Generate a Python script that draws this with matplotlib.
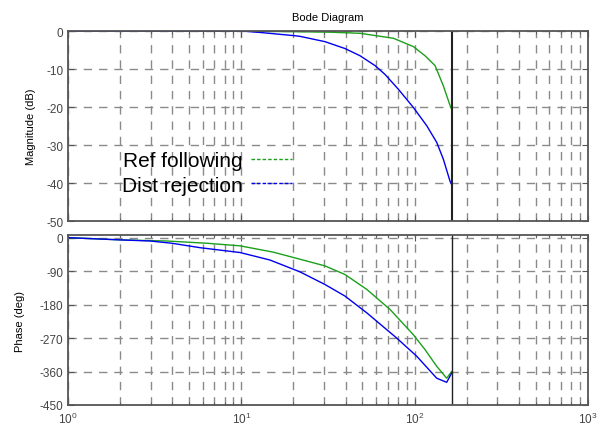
import matplotlib.pyplot as plt
from matplotlib.lines import Line2D
import numpy as np

plt.rcParams['font.family'] = ['Liberation Sans', 'DejaVu Sans']
plt.rcParams['mathtext.fontset'] = 'custom'
plt.rcParams['mathtext.rm'] = 'Liberation Sans'
plt.rcParams['axes.unicode_minus'] = False

# magnitude (dB)
freq_mag_ref = [1, 10, 32.5, 48.4, 75.4, 98.3, 114.8, 131.2, 146.4, 161.5, 164]
mag_ref = [0, 0, -0.3, -0.6, -1.9, -4.1, -6.5, -9.1, -14.4, -20.1, -20.5]
freq_mag_dist = [1, 10, 13.0, 20, 21.8, 30.4, 39.6, 48.4, 59.1, 67.4, 80.5, 98.3, 117.4, 134.1, 146.4, 160, 164]
mag_dist = [0, 0, -0.4, -1.2, -1.4, -2.8, -4.6, -6.5, -9.1, -11.4, -15.3, -20.1, -24.9, -29.3, -33.7, -39.5, -40.5]

# phase (deg)
freq_ph_ref = [1, 2.0, 3.71, 6.31, 9.83, 15.3, 21.8, 30.4, 39.6, 52.9, 72.1, 98.3, 114.8, 134.1, 153.1, 163.7]
ph_ref = [0, -6, -9, -15, -22, -39, -58, -76, -99, -139, -193, -261, -301, -346, -378, -360]
freq_ph_dist = [1, 2.0, 2.97, 3.97, 5.78, 9.83, 14.6, 21.8, 30.4, 39.6, 52.9, 78.8, 102.9, 134.1, 153.1, 163.7]
ph_dist = [0, -6, -9, -15, -27, -40, -60, -92, -126, -157, -202, -270, -319, -378, -389, -364]

nyquist = 164

fig = plt.figure(figsize=(6.06, 4.27), dpi=100)
ax1 = fig.add_axes([0.1122, 0.480, 0.858, 0.445])
ax2 = fig.add_axes([0.1122, 0.0492, 0.858, 0.398])

grid_kw = dict(color="#8a8a8a", linestyle=(0, (6, 5)), linewidth=1.0)
for ax in (ax1, ax2):
    ax.set_xscale("log")
    ax.set_xlim(1, 1000)
    ax.grid(True, which="both", axis="x", **grid_kw)
    ax.grid(True, which="major", axis="y", **grid_kw)
    ax.tick_params(which="both", direction="in", top=True, right=True,
                   labelsize=8.5, colors="#555555", labelcolor="#444444")
    ax.tick_params(which="major", length=4)
    ax.tick_params(which="minor", length=2.5)
    for s in ax.spines.values():
        s.set_color("#555555")
        s.set_linewidth(1.3)

ax1.plot(freq_mag_ref, mag_ref, color="#1aa01a", linewidth=1)
ax1.plot(freq_mag_dist, mag_dist, color="#0000ee", linewidth=1)
ax1.axvline(nyquist, color="#222222", linewidth=1.5)
ax1.set_ylim(-50, 0)
ax1.set_yticks([0, -10, -20, -30, -40, -50])
ax1.tick_params(axis="x", which="both", labelbottom=False)
ax1.set_ylabel("Magnitude (dB)", fontsize=8, labelpad=7)
ax1.set_title("Bode Diagram", fontsize=8, pad=8)

handles = [Line2D([], [], color="#1aa01a", linestyle=(0, (2.5, 1.5)), linewidth=1),
           Line2D([], [], color="#0000ee", linestyle=(0, (2.5, 1.5)), linewidth=1)]
ax1.legend(handles, ["Ref following", "Dist rejection"], loc="upper left",
           bbox_to_anchor=(0.087, 0.41), frameon=False, markerfirst=False,
           fontsize=15, handlelength=2.0, handletextpad=0.4, labelspacing=0.25,
           borderaxespad=0)

ax2.plot(freq_ph_ref, ph_ref, color="#1aa01a", linewidth=1)
ax2.plot(freq_ph_dist, ph_dist, color="#0000ee", linewidth=1)
ax2.axvline(nyquist, color="#222222", linewidth=1.0)
ax2.set_ylim(-450, 7)
ax2.set_yticks([0, -90, -180, -270, -360, -450])
ax2.set_xticks([1, 10, 100, 1000])
ax2.set_xticklabels([r"$10^{0}$", r"$10^{1}$", r"$10^{2}$", r"$10^{3}$"])
ax2.tick_params(axis="x", which="major", labelsize=8.5, pad=4)
ax2.set_ylabel("Phase (deg)", fontsize=8, labelpad=10)

fig.savefig("out.png", dpi=100)
